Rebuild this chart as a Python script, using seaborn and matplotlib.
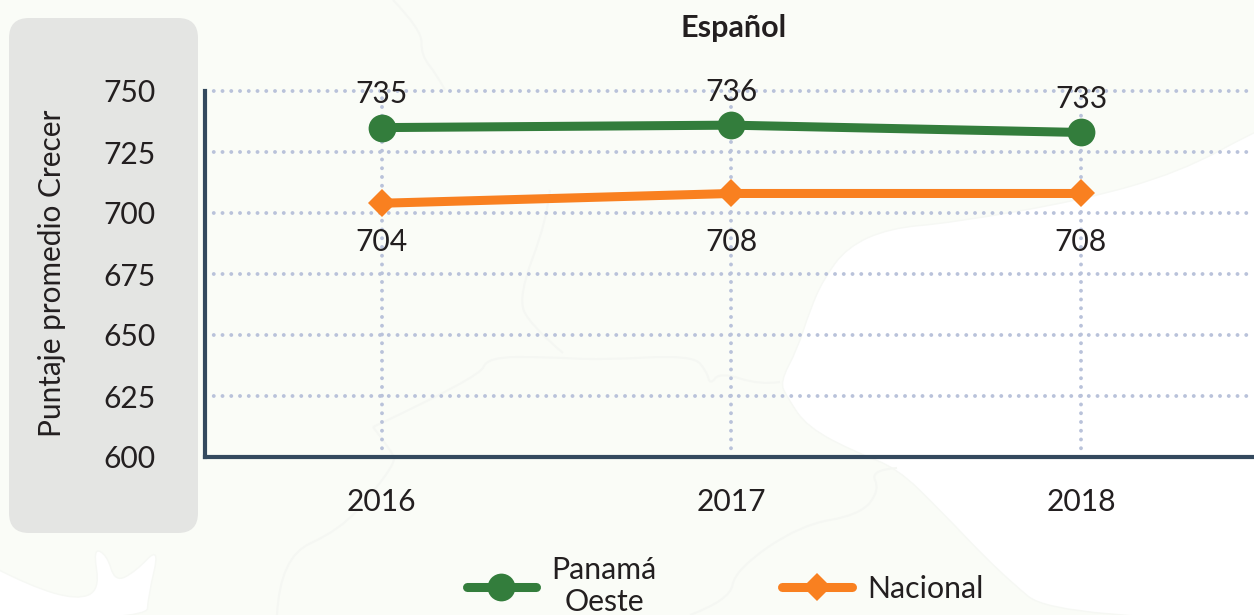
import matplotlib
matplotlib.use("Agg")
import matplotlib.pyplot as plt
import seaborn as sns
from matplotlib.patches import FancyBboxPatch, PathPatch
from matplotlib.path import Path
from matplotlib.transforms import IdentityTransform

# Data
years = ["2016", "2017", "2018"]
panama_oeste = [735, 736, 733]
nacional = [704, 708, 708]
y_ticks = [600, 625, 650, 675, 700, 725, 750]

GREEN = "#337d3c"
ORANGE = "#f98020"
TEXT = "#231f20"
FS = 21.6
W, H = 1254, 615

sns.set_theme(style="white")
plt.rcParams["font.family"] = ["Lato", "DejaVu Sans"]

fig = plt.figure(figsize=(W / 100, H / 100), dpi=100, facecolor="#fafcf7")
ax = fig.add_axes([205 / W, 158 / H, 1049 / W, 366 / H])
ax.patch.set_alpha(0)


# background map, given in picture pixels (y down), smoothed with quadratic curves
def smooth_path(points, closed=False):
    pts = [(x, H - y) for x, y in points]
    verts = [pts[0]]
    codes = [Path.MOVETO]
    for i in range(1, len(pts) - 1):
        next_pt = pts[i + 1]
        if i == len(pts) - 2:
            mid = next_pt
        else:
            mid = ((pts[i][0] + next_pt[0]) / 2, (pts[i][1] + next_pt[1]) / 2)
        verts += [pts[i], mid]
        codes += [Path.CURVE3, Path.CURVE3]
    if closed:
        verts.append(pts[0])
        codes.append(Path.LINETO)
    return Path(verts, codes)


sea_right = [(1300, 110), (1254, 132), (1180, 172), (1083, 200), (950, 223), (890, 228), (847, 247),
             (823, 280), (810, 310), (797, 350), (780, 382), (787, 397), (807, 427),
             (857, 453), (897, 468), (940, 510), (1000, 573), (1057, 620), (1300, 620)]
sea_left = [(-5, 568), (30, 586), (77, 600), (100, 590), (93, 548), (107, 555), (115, 582),
            (135, 572), (160, 546), (148, 597), (147, 620), (-5, 620)]
for shape in [sea_right, sea_left]:
    fig.add_artist(PathPatch(smooth_path(shape, closed=True), facecolor="white", edgecolor="#f6f8f4",
                             lw=1, transform=IdentityTransform(), zorder=-5))

borders = [
    [(393, 0), (422, 30), (421, 55), (437, 75), (445, 90)],
    [(550, 190), (547, 220), (518, 297), (530, 325), (563, 353)],
    [(373, 427), (480, 377), (487, 357), (547, 357), (600, 360), (693, 355),
     (707, 372), (710, 385), (720, 372), (760, 385), (780, 382)],
    [(373, 427), (393, 453), (395, 462), (375, 490), (340, 530), (280, 557), (277, 615)],
    [(897, 468), (870, 470), (880, 490), (860, 515), (800, 525), (735, 570), (730, 600), (690, 615)],
]
for b in borders:
    fig.add_artist(PathPatch(smooth_path(b), facecolor="none", edgecolor="#f5f7f3", lw=1.5,
                             transform=IdentityTransform(), zorder=-4))

# grey panel behind the y axis
fig.add_artist(FancyBboxPatch((29, H - 513), 149, 475, boxstyle="round,pad=20,rounding_size=20",
                              facecolor="#e4e5e3", edgecolor="none",
                              transform=IdentityTransform(), zorder=-3))

# Lines
sns.lineplot(x=years, y=panama_oeste, ax=ax, color=GREEN, lw=6.5, marker="o", markersize=20,
             markeredgewidth=0, sort=False, label="Panamá\nOeste", clip_on=False, zorder=3)
sns.lineplot(x=years, y=nacional, ax=ax, color=ORANGE, lw=6.5, marker="D", markersize=14,
             markeredgewidth=0, sort=False, label="Nacional", clip_on=False, zorder=3)

# Value labels
for i, v in enumerate(panama_oeste):
    ax.annotate(str(v), (i, v), xytext=(0, 24), textcoords="offset points", ha="center",
                va="center", fontsize=FS, color=TEXT, zorder=4)
for i, v in enumerate(nacional):
    ax.text(i, 688.2, str(v), ha="center", va="center", fontsize=FS, color=TEXT, zorder=4)

# Axes
ax.set_xlim(-0.506, 2.495)
ax.set_ylim(600, 750)
ax.set_yticks(y_ticks)
ax.set_xlabel("")
ax.set_ylabel("")
ax.tick_params(axis="y", length=0, pad=35.5, labelsize=FS, labelcolor=TEXT)
ax.tick_params(axis="x", length=0, pad=22.5, labelsize=FS, labelcolor=TEXT)
ax.grid(True, color="#b9c2da", lw=2.8, linestyle=(0, (0.01, 2.24)), dash_capstyle="round")
for line in ax.get_xgridlines() + ax.get_ygridlines():
    line.set_clip_on(False)
ax.set_axisbelow(True)
sns.despine(ax=ax)
for side in ["left", "bottom"]:
    ax.spines[side].set_color("#34495e")
    ax.spines[side].set_linewidth(3)

fig.text(52 / W, 1 - 273 / H, "Puntaje promedio Crecer", rotation=90, ha="center", va="center",
         fontsize=21.4, color=TEXT)
fig.text(733.5 / W, 1 - 28.5 / H, "Español", ha="center", va="center", fontsize=22,
         fontweight="bold", color=TEXT)

# Legend
ax.get_legend().remove()
handles, labels = ax.get_legend_handles_labels()
leg = fig.legend(handles, labels, loc="center", bbox_to_anchor=(725 / W, 1 - 586 / H), ncol=2,
                 frameon=False, fontsize=21.8, handlelength=2.3, handletextpad=0.5,
                 columnspacing=4.15, numpoints=1, labelcolor=TEXT)
for t in leg.get_texts():
    t.set_multialignment("center")
for h in leg.get_lines():
    h.set_solid_capstyle("round")

fig.savefig("out.png", dpi=100, facecolor=fig.get_facecolor())
